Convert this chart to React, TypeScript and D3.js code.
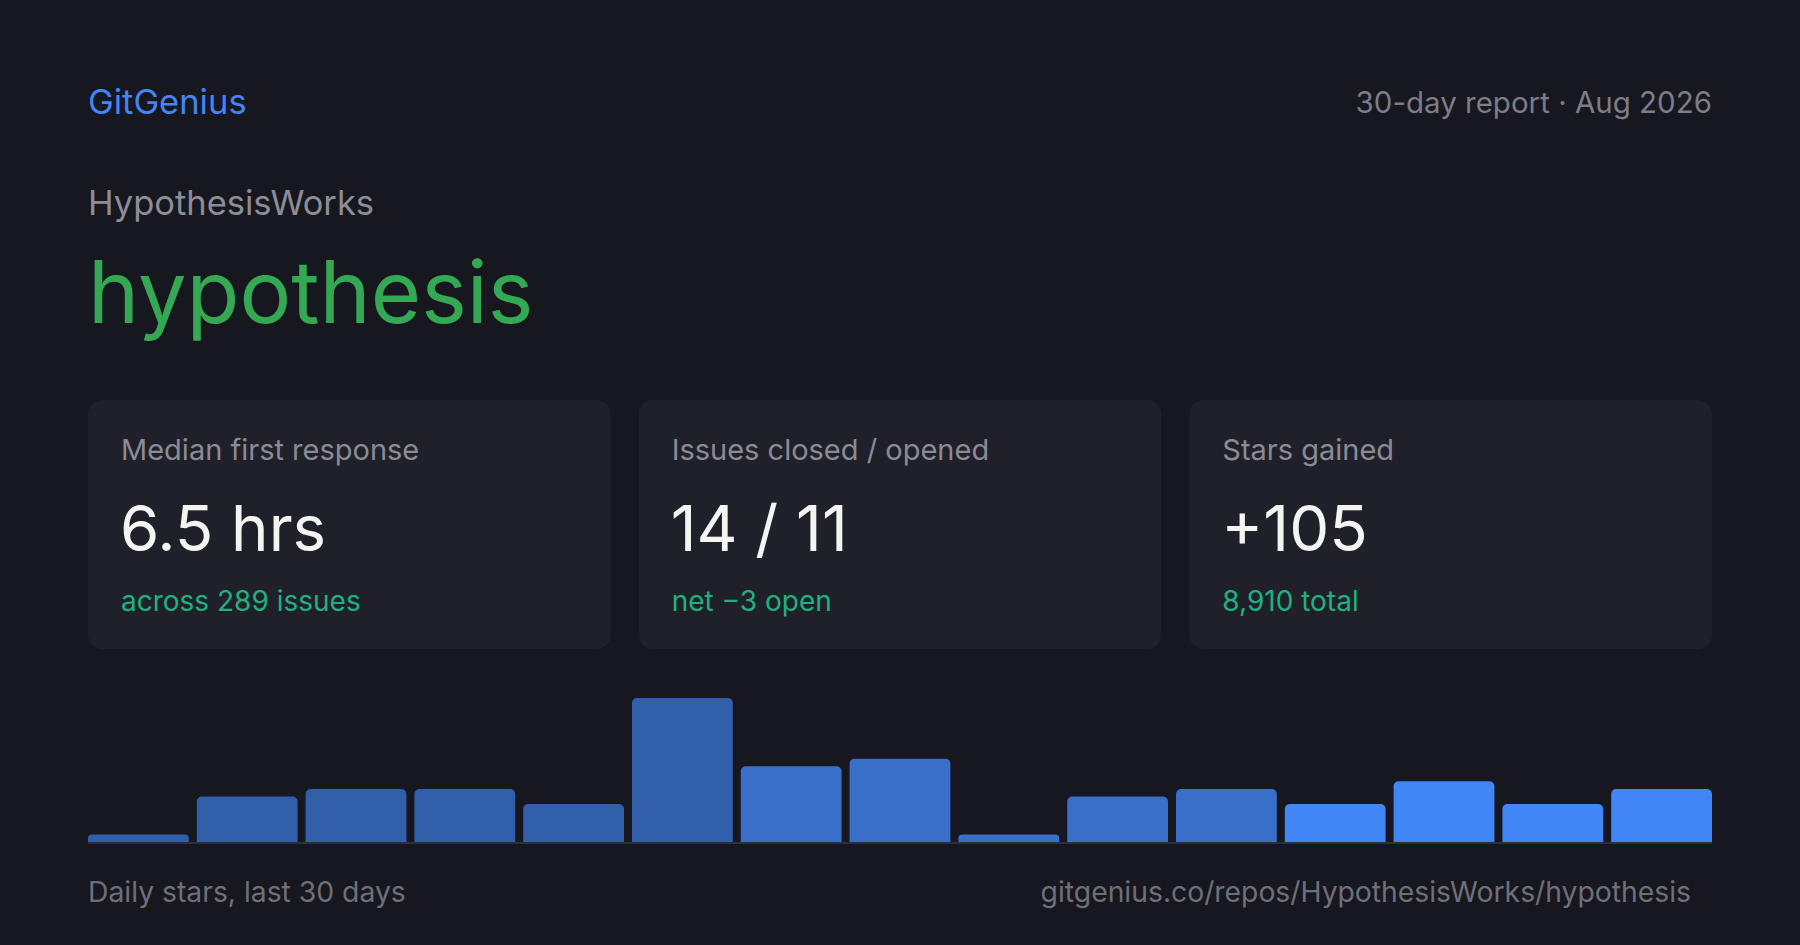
import { useEffect, useRef } from 'react';
import * as d3 from 'd3';

// Datos
const brand = 'GitGenius';
const reportLabel = '30-day report · Aug 2026';
const owner = 'HypothesisWorks';
const repo = 'hypothesis';

const cardLabels = ['Median first response', 'Issues closed / opened', 'Stars gained'];
const cardValues = ['6.5 hrs', '14 / 11', '+105'];
const cardNotes = ['across 289 issues', 'net −3 open', '8,910 total'];

const dailyStars = [1, 6, 7, 7, 5, 19, 10, 11, 1, 6, 7, 5, 8, 5, 7];
const barTiers = [0, 0, 0, 0, 0, 0, 1, 1, 1, 1, 1, 2, 2, 2, 2];

const footerLeft = 'Daily stars, last 30 days';
const footerRight = 'gitgenius.co/repos/HypothesisWorks/hypothesis';

const W = 1800;
const H = 945;
const FONT = 'Inter, "Noto Sans", sans-serif';

const App = () => {
  const svgRef = useRef<SVGSVGElement>(null);

  useEffect(() => {
    if (!svgRef.current) return;
    document.body.style.margin = '0';
    document.body.style.background = '#16171f';

    const svg = d3.select(svgRef.current);
    svg.selectAll('*').remove();

    const padX = 88;
    const innerW = W - padX * 2;

    svg.append('rect').attr('width', W).attr('height', H).attr('fill', '#16171f');

    // Cabecera
    svg.append('text')
      .attr('x', padX).attr('y', 114)
      .attr('font-size', 34.5).attr('fill', '#4285f4')
      .text(brand);

    svg.append('text')
      .attr('x', W - padX).attr('y', 113)
      .attr('text-anchor', 'end')
      .attr('font-size', 29.5).attr('fill', '#7c7d88')
      .text(reportLabel);

    svg.append('text')
      .attr('x', padX).attr('y', 215)
      .attr('font-size', 34.5).attr('fill', '#8d8d97')
      .text(owner);

    svg.append('text')
      .attr('x', padX).attr('y', 323)
      .attr('font-size', 86.5).attr('fill', '#34a853')
      .text(repo);

    // Tarjetas
    const gap = 28;
    const cardW = (innerW - gap * 2) / 3;
    const cardTop = 400;
    const cardH = 249;

    const cards = svg.append('g')
      .selectAll('g')
      .data(cardLabels)
      .enter().append('g')
      .attr('transform', (d, i) => `translate(${padX + i * (cardW + gap)},${cardTop})`);

    cards.append('rect')
      .attr('width', cardW).attr('height', cardH)
      .attr('rx', 14)
      .attr('fill', '#1f2029');

    cards.append('text')
      .attr('x', 33).attr('y', 60)
      .attr('font-size', 29).attr('fill', '#8b8b96')
      .text(d => d);

    cards.append('text')
      .attr('x', 32).attr('y', 151)
      .attr('font-size', 63.5).attr('fill', '#f4f4f2')
      .text((d, i) => cardValues[i]);

    cards.append('text')
      .attr('x', 33).attr('y', 211)
      .attr('font-size', 28).attr('fill', '#20b27e')
      .text((d, i) => cardNotes[i]);

    // Barras
    const baseY = 842;
    const chartH = 144;
    const barGap = 8;
    const n = dailyStars.length;

    const x = d3.scaleBand<number>()
      .domain(d3.range(n))
      .range([padX, W - padX])
      .paddingInner((barGap * n) / (innerW + barGap))
      .paddingOuter(0);

    const y = d3.scaleLinear()
      .domain([0, d3.max(dailyStars) || 0])
      .range([baseY, baseY - chartH]);

    const tierOpacity = [0.65, 0.8, 1];
    const r = 5;

    svg.append('g')
      .selectAll('path')
      .data(dailyStars)
      .enter().append('path')
      .attr('fill', '#4285f4')
      .attr('fill-opacity', (d, i) => tierOpacity[barTiers[i]])
      .attr('d', (d, i) => {
        const x0 = x(i) || 0;
        const x1 = x0 + x.bandwidth();
        const top = y(d);
        const rr = Math.min(r, (baseY - top) / 2);
        const p = d3.path();
        p.moveTo(x0, baseY);
        p.lineTo(x0, top + rr);
        p.arcTo(x0, top, x0 + rr, top, rr);
        p.lineTo(x1 - rr, top);
        p.arcTo(x1, top, x1, top + rr, rr);
        p.lineTo(x1, baseY);
        p.closePath();
        return p.toString();
      });

    svg.append('rect')
      .attr('x', padX).attr('y', baseY)
      .attr('width', innerW).attr('height', 2)
      .attr('fill', '#2d2e39');

    // Pie
    svg.append('text')
      .attr('x', padX).attr('y', 902)
      .attr('font-size', 28.3).attr('fill', '#6e6f7a')
      .text(footerLeft);

    svg.append('text')
      .attr('x', 1691).attr('y', 902)
      .attr('text-anchor', 'end')
      .attr('font-size', 28.3).attr('fill', '#6e6f7a')
      .text(footerRight);
  }, []);

  return (
    <svg
      ref={svgRef}
      width={W}
      height={H}
      fontFamily={FONT}
      style={{ display: 'block' }}
    />
  );
};

export default App;
